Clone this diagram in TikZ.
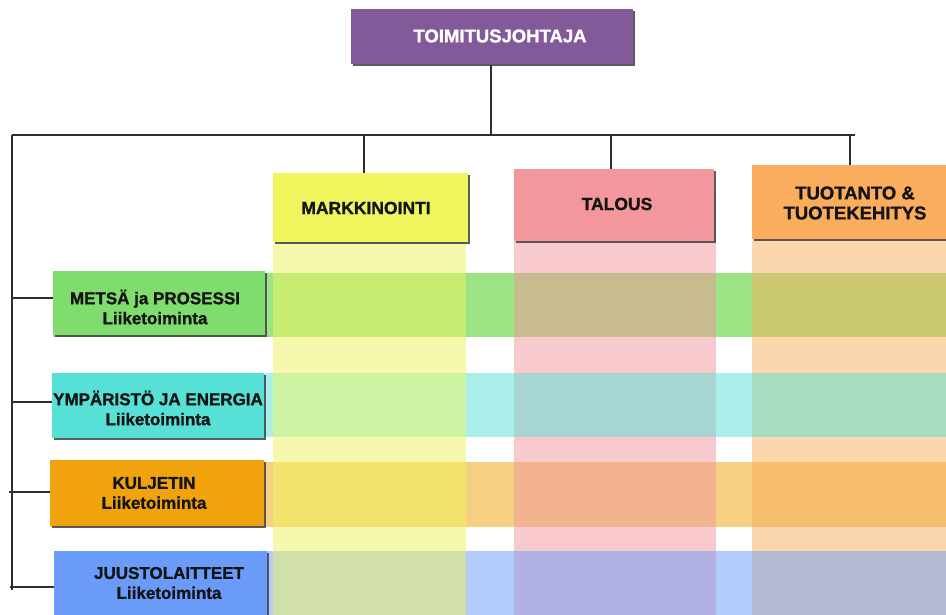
\documentclass[tikz,border=0pt]{standalone}
\usepackage{fontspec}
\setmainfont{Liberation Sans}
\newfontfamily\heavy{Liberation Sans}[UprightFont=*-Bold, FakeBold=1.2]
\usetikzlibrary{shadows,calc}
\definecolor{ceoC}{HTML}{825A9A}
\definecolor{yelC}{HTML}{EFF55C}
\definecolor{pinkC}{HTML}{F4979C}
\definecolor{oraC}{HTML}{FAAE5D}
\definecolor{grnC}{HTML}{7EDD6C}
\definecolor{grnS}{HTML}{9BE385}
\definecolor{tealC}{HTML}{56E0D6}
\definecolor{kulC}{HTML}{F0A30D}
\definecolor{kulS}{HTML}{F6D082}
\definecolor{bluC}{HTML}{6B9BF9}
\definecolor{lineC}{HTML}{2E2E2E}
\tikzset{
  x=1pt, y=-1pt,
  shbox/.style={inner sep=0pt, drop shadow={shadow xshift=1.6pt, shadow yshift=-1.6pt, fill=black!75, opacity=0.85}},
  txt/.style={inner sep=0pt, align=center, text=black!92},
  conn/.style={draw=lineC, line width=2pt},
}
\begin{document}
\begin{tikzpicture}
\clip (0,0) rectangle (946,615);
\fill[white] (0,0) rectangle (946,615);
% rows under columns
\fill[grnS] (53,273) rectangle (946,337);
\fill[kulS] (50,462) rectangle (946,527);
% pink and orange columns
\fill[pinkC, opacity=0.5] (514,187) rectangle (716,615);
\fill[oraC, opacity=0.5] (752,200) rectangle (946,615);
% rows over those columns
\fill[tealC, opacity=0.5] (52,373) rectangle (946,437);
\fill[bluC, opacity=0.5] (54,551) rectangle (946,615);
% yellow column on top
\fill[yelC, opacity=0.5] (273,230) rectangle (466,615);

% CEO
\node[shbox, fill=ceoC, minimum width=282pt, minimum height=55pt] (ceo) at (492,37) {};
\node[txt, text=white, font=\heavy\fontsize{18.5}{20}\selectfont] (ceoT) at (500,36) {TOIMITUSJOHTAJA};

% column headers
\node[shbox, fill=yelC, minimum width=195pt, minimum height=69pt] (mark) at (370.5,207.5) {};
\node[txt, font=\heavy\fontsize{17.5}{20}\selectfont] (markT) at (366,208) {MARKKINOINTI};
\node[shbox, fill=pinkC, minimum width=200pt, minimum height=72pt] (tal) at (614,205) {};
\node[txt, font=\heavy\fontsize{17.5}{20}\selectfont] (talT) at (617,204) {TALOUS};
\node[shbox, fill=oraC, minimum width=200pt, minimum height=74pt] (tuo) at (852,202) {};
\node[txt, font=\heavy\fontsize{18.5}{20}\selectfont] (tuoT) at (855,203) {TUOTANTO \&\\TUOTEKEHITYS};

% row headers
\node[shbox, fill=grnC, minimum width=212pt, minimum height=64pt] (met) at (159,303) {};
\node[txt, font=\heavy\fontsize{17}{20}\selectfont] (metT) at (155,307) {METSÄ ja PROSESSI\\Liiketoiminta};
\node[shbox, fill=tealC, minimum width=212pt, minimum height=65pt] (ymp) at (158,405.5) {};
\node[txt, font=\heavy\fontsize{17}{20}\selectfont] (ympT) at (158,408) {YMPÄRISTÖ JA ENERGIA\\Liiketoiminta};
\node[shbox, fill=kulC, minimum width=214pt, minimum height=66pt] (kul) at (157,493) {};
\node[txt, font=\heavy\fontsize{17}{20}\selectfont] (kulT) at (154,493) {KULJETIN\\Liiketoiminta};
\node[shbox, fill=bluC, minimum width=213pt, minimum height=70pt] (juu) at (160.5,586) {};
\node[txt, font=\heavy\fontsize{17}{20}\selectfont] (juuT) at (169,583) {JUUSTOLAITTEET\\Liiketoiminta};

% connectors
\coordinate (busL) at (12,135);
\coordinate (busR) at (855,135);
\coordinate (vbot) at (12,590);
\coordinate (t1) at (364,135);
\coordinate (t2) at (611,135);
\coordinate (t3) at (850,135);
\draw[conn] (ceo.south -| 491,0) -- (busL -| 491,0);
\draw[conn] (busL) -- (busR);
\draw[conn] (busL) -- (vbot);
\draw[conn] (t1) -- (t1 |- mark.north);
\draw[conn] (t2) -- (t2 |- tal.north);
\draw[conn] (t3) -- (t3 |- tuo.north);
\draw[conn] ($(met.west)+(-41,-5)$) -- ($(met.west)+(0,-5)$);
\draw[conn] ($(ymp.west)+(-40,-3.5)$) -- ($(ymp.west)+(0,-3.5)$);
\draw[conn] ($(kul.west)+(-41,-1)$) -- ($(kul.west)+(0,-1)$);
\draw[conn] ($(juu.west)+(-44,1)$) -- ($(juu.west)+(0,1)$);
\end{tikzpicture}
\end{document}
